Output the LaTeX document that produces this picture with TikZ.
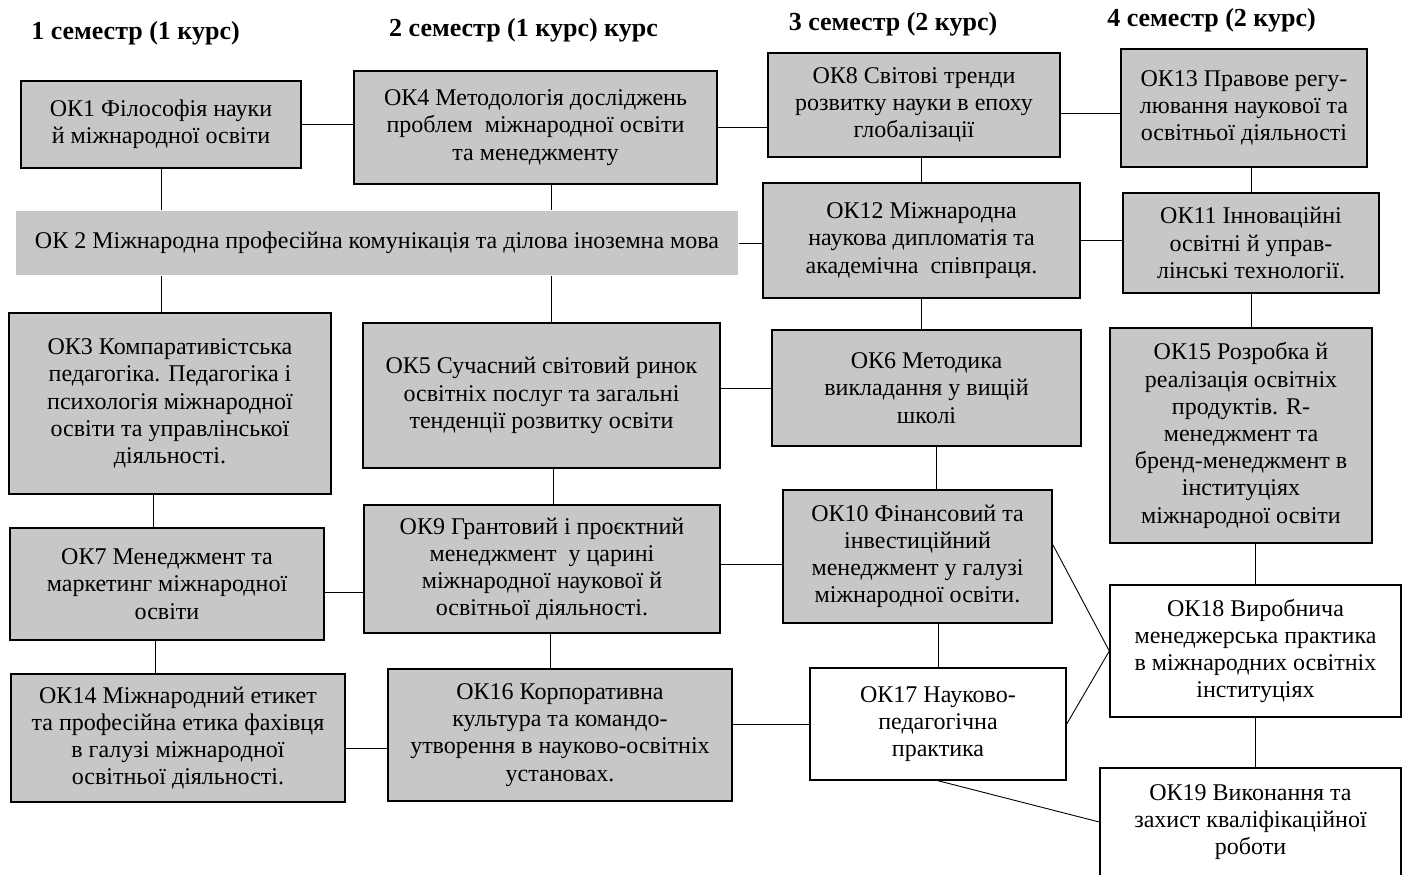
\documentclass[tikz,border=0pt]{standalone}
\usepackage{fontspec}
\setmainfont{Liberation Serif}
\usepackage{tikz}

\begin{document}
\begin{tikzpicture}[x=0.5pt, y=-0.5pt,
  box/.style={rectangle, draw=black, line width=0.7pt, fill=black!22,
              inner sep=2pt, align=center,
              font=\fontsize{12}{13.6}\selectfont},
  band/.style={box, draw=none},
  wbox/.style={box, fill=white},
  head/.style={font=\fontsize{13}{15}\selectfont\bfseries},
  lnk/.style={line width=0.45pt}]
  \useasboundingbox (0,0) rectangle (1407,874);
  % semester headings
  \node[head] (h1) at (135.5,33) {1 семестр (1 курс)};
  \node[head] (h2) at (523.5,30) {2 семестр (1 курс) курс};
  \node[head] (h3) at (893,24) {3 семестр (2 курс)};
  \node[head] (h4) at (1211.5,20) {4 семестр (2 курс)};
  % first row
  \node[box, minimum width=140pt, minimum height=43.5pt] (ok1) at (161,124.5)
    {ОК1 Філософія науки\\й міжнародної освіти};
  \node[box, minimum width=181.5pt, minimum height=56.5pt] (ok4) at (535.5,127.5)
    {ОК4 Методологія досліджень\\проблем\ \ міжнародної освіти\\та менеджменту};
  \node[box, minimum width=146pt, minimum height=52pt] (ok8) at (914,105)
    {ОК8 Світові тренди\\розвитку науки в епоху\\глобалізації};
  \node[box, minimum width=123pt, minimum height=59pt] (ok13) at (1244,108)
    {ОК13 Правове регу-\\лювання наукової та\\освітньої діяльності};
  % second row
  \node[band, minimum width=361pt, minimum height=32pt] (ok2) at (377,243)
    {ОК 2 Міжнародна професійна комунікація та ділова іноземна мова};
  \node[box, minimum width=158.5pt, minimum height=57.5pt] (ok12) at (921.5,240.5)
    {ОК12 Міжнародна\\наукова дипломатія та\\академічна\ \ співпраця.};
  \node[box, minimum width=128pt, minimum height=50pt] (ok11) at (1251,243)
    {ОК11 Інноваційні\\освітні й управ-\\лінські технології.};
  % third row
  \node[box, minimum width=161pt, minimum height=90.5pt] (ok3) at (170,403.5)
    {ОК3 Компаративістська\\педагогіка. Педагогіка і\\психологія міжнародної\\освіти та управлінської\\діяльності.};
  \node[box, minimum width=178.5pt, minimum height=72.5pt] (ok5) at (541.5,395.5)
    {ОК5 Сучасний світовий ринок\\освітніх послуг та загальні\\тенденції розвитку освіти};
  \node[box, minimum width=154.5pt, minimum height=58pt] (ok6) at (926.5,388)
    {ОК6 Методика\\викладання у вищій\\школі};
  \node[box, minimum width=131pt, minimum height=107.5pt] (ok15) at (1241,435.5)
    {ОК15 Розробка й\\реалізація освітніх\\продуктів. R-\\менеджмент та\\бренд-менеджмент в\\інституціях\\міжнародної освіти};
  % fourth row
  \node[box, minimum width=157pt, minimum height=56pt] (ok7) at (167,584)
    {ОК7 Менеджмент та\\маркетинг міжнародної\\освіти};
  \node[box, minimum width=178pt, minimum height=64pt] (ok9) at (542,569)
    {ОК9 Грантовий і проєктний\\менеджмент\ \ у царині\\міжнародної наукової й\\освітньої діяльності.};
  \node[box, minimum width=134.5pt, minimum height=66.5pt] (ok10) at (917.5,556.5)
    {ОК10 Фінансовий та\\інвестиційний\\менеджмент у галузі\\міжнародної освіти.};
  \node[wbox, minimum width=145.5pt, minimum height=66pt] (ok18) at (1255.5,651)
    {ОК18 Виробнича\\менеджерська практика\\в міжнародних освітніх\\інституціях};
  % fifth row
  \node[box, minimum width=167pt, minimum height=64pt] (ok14) at (178,738)
    {ОК14 Міжнародний етикет\\та професійна етика фахівця\\в галузі міжнародної\\освітньої діяльності.};
  \node[box, minimum width=172pt, minimum height=66pt] (ok16) at (560,735)
    {ОК16 Корпоративна\\культура та командо-\\утворення в науково-освітніх\\установах.};
  \node[wbox, minimum width=128pt, minimum height=56pt] (ok17) at (938,724)
    {ОК17 Науково-\\педагогічна\\практика};
  \node[wbox, minimum width=150.5pt, minimum height=54pt] (ok19) at (1250.5,822)
    {ОК19 Виконання та\\захист кваліфікаційної\\роботи};
  % horizontal links
  \draw[lnk] (ok1.east) -- (ok1.east -| ok4.west);
  \draw[lnk] (ok4.east) -- (ok4.east -| ok8.west);
  \draw[lnk] ([yshift=-4pt]ok8.east) -- ([yshift=-4pt]ok8.east -| ok13.west);
  \draw[lnk] (ok2.east) -- (ok2.east -| ok12.west);
  \draw[lnk] (ok12.east) -- (ok12.east -| ok11.west);
  \draw[lnk] (ok6.west) -- (ok6.west -| ok5.east);
  \draw[lnk] ([yshift=-4pt]ok7.east) -- ([yshift=-4pt]ok7.east -| ok9.west);
  \draw[lnk] ([yshift=-4pt]ok10.west) -- ([yshift=-4pt]ok10.west -| ok9.east);
  \draw[lnk] ([yshift=-5pt]ok14.east) -- ([yshift=-5pt]ok14.east -| ok16.west);
  \draw[lnk] (ok17.west) -- (ok17.west -| ok16.east);
  % vertical links
  \draw[lnk] (ok1.south) -- (ok1.south |- ok2.north);
  \draw[lnk] (ok1.south |- ok2.south) -- (ok1.south |- ok3.north);
  \draw[lnk] ([xshift=8pt]ok4.south) -- ([xshift=8pt]ok4.south |- ok2.north);
  \draw[lnk] ([xshift=5pt]ok5.north) -- ([xshift=5pt]ok5.north |- ok2.south);
  \draw[lnk] (ok12.north) -- (ok12.north |- ok8.south);
  \draw[lnk] (ok11.north) -- (ok11.north |- ok13.south);
  \draw[lnk] (ok12.south) -- (ok12.south |- ok6.north);
  \draw[lnk] (ok11.south) -- (ok11.south |- ok15.north);
  \draw[lnk] ([xshift=-7pt]ok7.north) -- ([xshift=-7pt]ok7.north |- ok3.south);
  \draw[lnk] ([xshift=6pt]ok5.south) -- ([xshift=6pt]ok5.south |- ok9.north);
  \draw[lnk] ([xshift=5pt]ok6.south) -- ([xshift=5pt]ok6.south |- ok10.north);
  \draw[lnk] (ok18.north) -- (ok18.north |- ok15.south);
  \draw[lnk] ([xshift=-6pt]ok7.south) -- ([xshift=-6pt]ok7.south |- ok14.north);
  \draw[lnk] ([xshift=4pt]ok9.south) -- ([xshift=4pt]ok9.south |- ok16.north);
  \draw[lnk] (ok17.north) -- (ok17.north |- ok10.south);
  \draw[lnk] (ok18.south) -- (ok18.south |- ok19.north);
  % slanted links
  \draw[lnk] ([yshift=6pt]ok10.east) -- (ok18.west);
  \draw[lnk] (ok17.east) -- (ok18.west);
  \draw[lnk] (ok17.south) -- (ok19.west);
\end{tikzpicture}
\end{document}
